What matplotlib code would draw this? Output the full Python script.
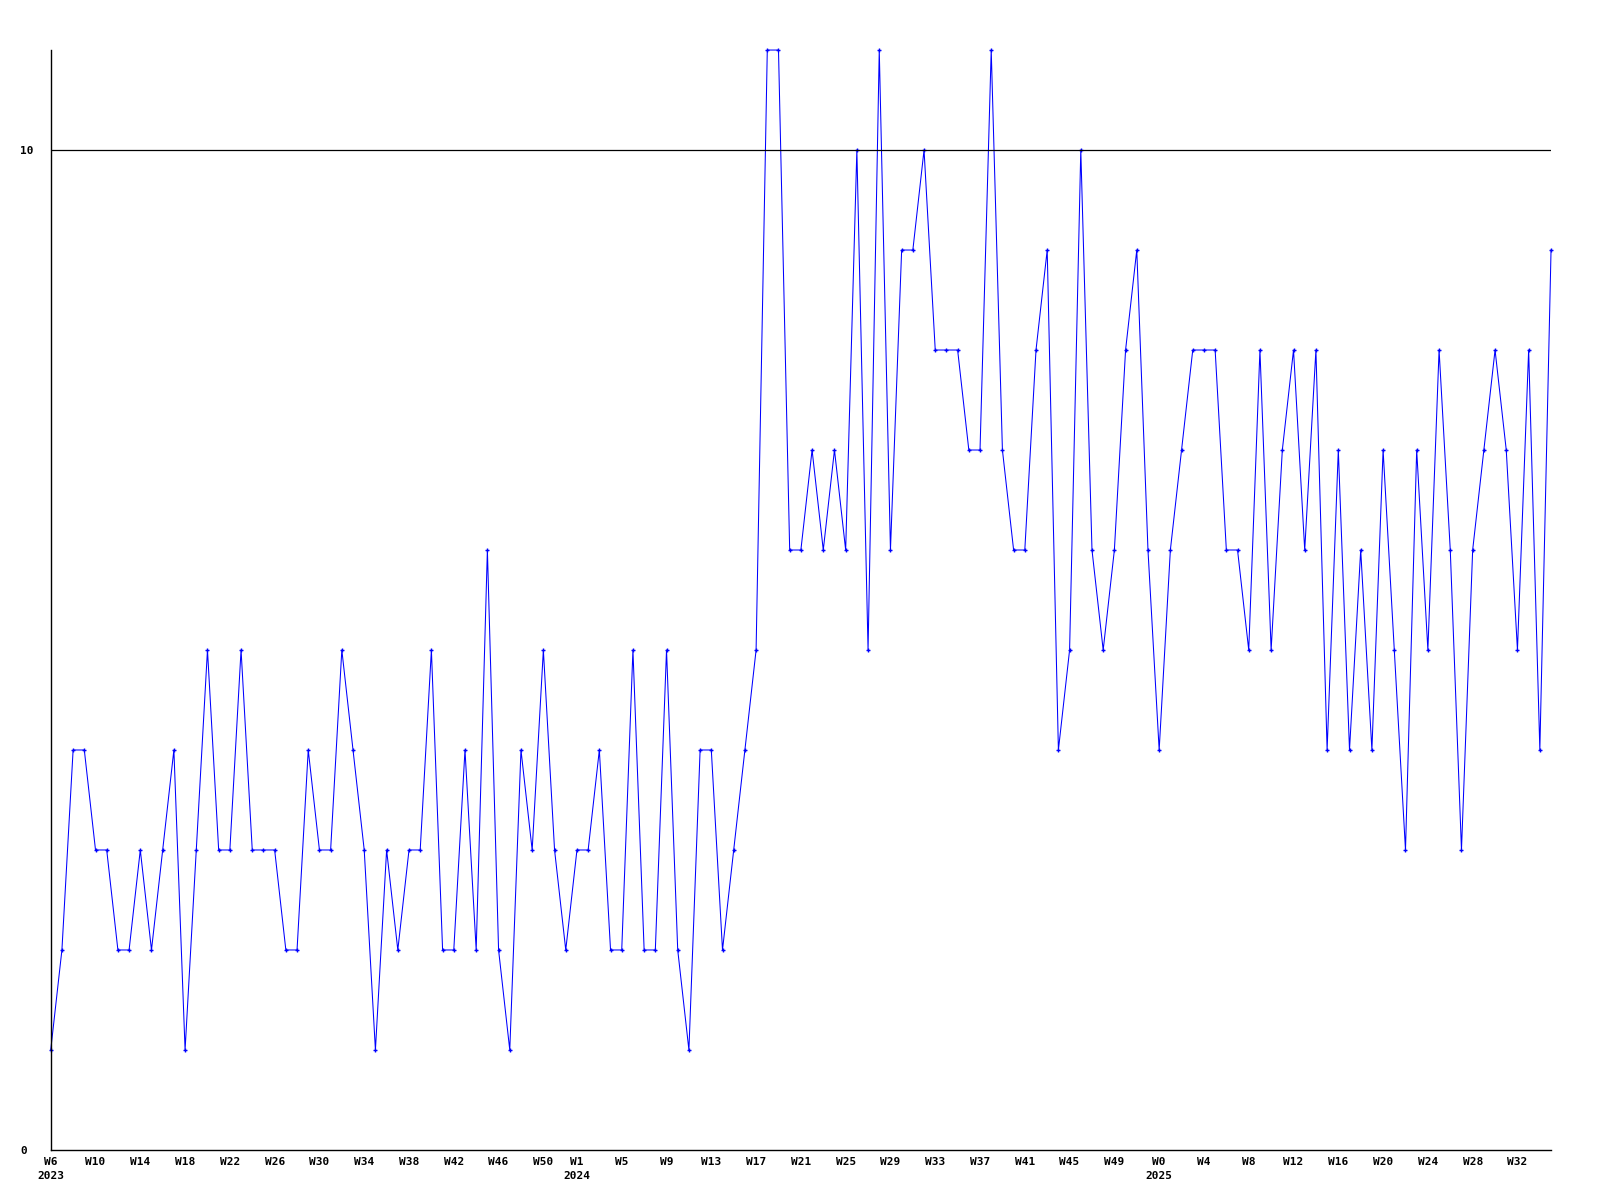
import numpy as np
import pandas as pd
import matplotlib
matplotlib.use("Agg")
from matplotlib import pyplot as plt

# weekly counts, first point is Wednesday of week 6 in 2023
startDate = "2023-02-08"
counts = [1, 2, 4, 4, 3, 3, 2, 2, 3, 2, 3, 4, 1, 3, 5, 3, 3, 5, 3, 3,
          3, 2, 2, 4, 3, 3, 5, 4, 3, 1, 3, 2, 3, 3, 5, 2, 2, 4, 2, 6,
          2, 1, 4, 3, 5, 3, 2, 3, 3, 4, 2, 2, 5, 2, 2, 5, 2, 1, 4, 4,
          2, 3, 4, 5, 11, 11, 6, 6, 7, 6, 7, 6, 10, 5, 11, 6, 9, 9, 10, 8,
          8, 8, 7, 7, 11, 7, 6, 6, 8, 9, 4, 5, 10, 6, 5, 6, 8, 9, 6, 4,
          6, 7, 8, 8, 8, 6, 6, 5, 8, 5, 7, 8, 6, 8, 4, 7, 4, 6, 4, 7,
          5, 3, 7, 5, 8, 6, 3, 6, 7, 8, 7, 5, 8, 4, 9]
yTicks = [0, 10]
yMax = 11

lineColor = "#0000ff"
monoFont = "DejaVu Sans Mono"


def weekTicks(dates):
    # a label every 4 weeks, restarting at the first point of each year
    pos, labels = [], []
    prevYear = None
    firstWeek = 0
    for d in dates:
        wk = int(d.strftime("%W"))
        newYear = d.year != prevYear
        if newYear:
            firstWeek = wk
            prevYear = d.year
        if (wk - firstWeek) % 4 == 0:
            text = "W%d" % wk
            if newYear:
                text += "\n%d" % d.year
            pos.append(d)
            labels.append(text)
    return pos, labels


def main():
    dates = pd.date_range(startDate, periods=len(counts), freq="7D")

    fig = plt.figure(figsize=(16, 12), dpi=100)
    ax = fig.add_axes([0.0317, 0.0417, 0.9377, 0.9166])

    ax.plot(dates, counts, color=lineColor, linewidth=0.75,
            marker="+", markersize=3, markeredgewidth=1, clip_on=False)

    ax.set_xlim(dates[0], dates[-1])
    ax.set_ylim(0, yMax)

    # grid line at 10
    for t in yTicks[1:]:
        ax.axhline(t, color="black", linewidth=0.9)

    for side in ["top", "right"]:
        ax.spines[side].set_visible(False)
    for side in ["left", "bottom"]:
        ax.spines[side].set_color("black")
        ax.spines[side].set_linewidth(1)

    ax.set_yticks(yTicks)
    ax.set_yticklabels([str(t) for t in yTicks], fontfamily=monoFont,
                       fontweight="bold", fontsize=8)
    ax.tick_params(axis="y", length=0, pad=22)
    for lab in ax.get_yticklabels():
        lab.set_horizontalalignment("left")

    pos, labels = weekTicks(dates)
    ax.set_xticks(pos)
    ax.set_xticklabels(labels, fontfamily=monoFont, fontweight="bold",
                       fontsize=8, linespacing=1.45)
    ax.tick_params(axis="x", length=0, pad=5)
    ax.minorticks_off()

    fig.savefig("out.png", dpi=100, facecolor="white")


if __name__ == "__main__":
    main()
